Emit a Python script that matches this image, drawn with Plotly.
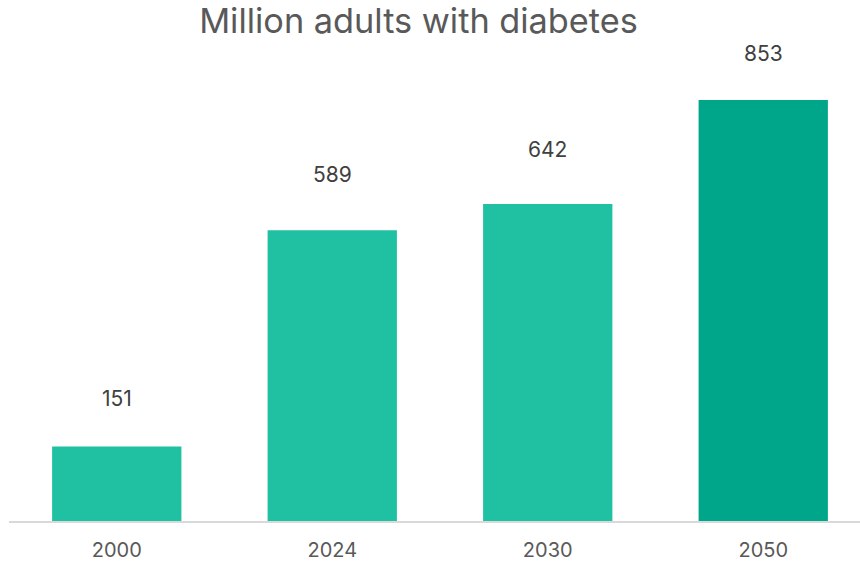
import plotly.graph_objects as go

years = ["2000", "2024", "2030", "2050"]
values = [151, 589, 642, 853]
colors = ["#20C1A2", "#20C1A2", "#20C1A2", "#00A68A"]
title_text = "Million adults with diabetes"

# pixel offsets of value labels above bar tops (layout only)
label_shift = [48, 55.5, 55, 46.5]

fig = go.Figure()
fig.add_trace(go.Bar(
    x=years, y=values, marker=dict(color=colors, line=dict(width=0)),
    width=0.6, hoverinfo="skip",
))

for i, v in enumerate(values):
    fig.add_annotation(x=i, y=v, xref="x", yref="y", text=str(v),
                       showarrow=False, yanchor="middle", yshift=label_shift[i],
                       font=dict(family="Inter", size=21, color="#404040"))

fig.update_layout(
    width=860, height=562,
    margin=dict(l=9, r=0, t=60, b=41),
    paper_bgcolor="white", plot_bgcolor="white",
    showlegend=False,
    title=dict(text=title_text, x=0.4812, xref="paper", xanchor="center",
               y=0.962, yanchor="middle",
               font=dict(family="Inter", size=34.3, color="#595959")),
    xaxis=dict(type="category", range=[-0.5, 3.449], showline=True,
               linecolor="#D9D9D9", linewidth=2, ticks="", showgrid=False,
               ticklabelstandoff=10,
               tickfont=dict(family="Inter", size=20, color="#595959")),
    yaxis=dict(range=[0, 934], visible=True, showticklabels=False,
               showline=False, ticks="", showgrid=False, zeroline=False),
)

fig.write_html("out.html")
